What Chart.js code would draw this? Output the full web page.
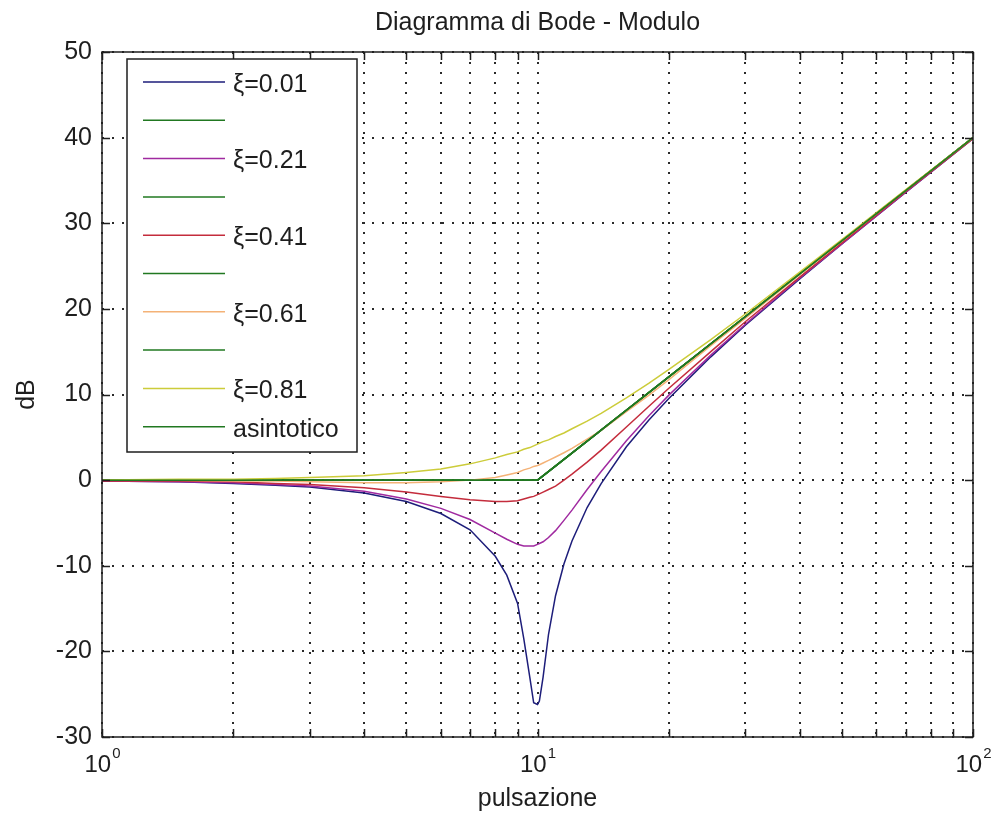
<!DOCTYPE html>
<html>
<head>
<meta charset="utf-8">
<title>Diagramma di Bode - Modulo</title>
<script src="https://cdn.jsdelivr.net/npm/chart.js@4.4.1/dist/chart.umd.min.js"></script>
<style>
  html, body { margin: 0; padding: 0; background: #fff; }
</style>
</head>
<body>
<canvas id="bode" width="994" height="821"></canvas>
<script>
// Pulsazione (rad/s) dei punti
const pulsazione = [1, 1.5, 2, 2.5, 3, 4, 5, 6, 7, 8, 8.5, 9, 9.3, 9.6, 9.8, 10, 10.1, 10.3, 10.6, 11, 11.5, 12, 13, 14, 16, 18, 20, 25, 30, 40, 50, 70, 100];

// Modulo in dB per ogni smorzamento
const xi001 = [-0.1, -0.2, -0.4, -0.6, -0.8, -1.5, -2.5, -3.9, -5.8, -8.9, -11.1, -14.4, -18.5, -23.0, -26.0, -26.2, -25.8, -23.0, -18.0, -13.5, -9.8, -7.1, -3.2, -0.4, 3.9, 7.0, 9.5, 14.4, 18.1, 23.5, 27.6, 33.6, 39.9];
const xi021 = [-0.1, -0.2, -0.3, -0.5, -0.7, -1.3, -2.2, -3.3, -4.6, -6.2, -6.9, -7.5, -7.7, -7.7, -7.7, -7.5, -7.4, -7.2, -6.7, -5.9, -4.7, -3.5, -1.1, 1.0, 4.6, 7.5, 9.9, 14.6, 18.2, 23.6, 27.6, 33.6, 39.9];
const xi041 = [-0.1, -0.1, -0.2, -0.4, -0.5, -0.9, -1.4, -1.9, -2.3, -2.5, -2.5, -2.4, -2.2, -2.0, -1.9, -1.7, -1.6, -1.4, -1.1, -0.7, 0.0, 0.7, 2.1, 3.5, 6.2, 8.6, 10.7, 15.0, 18.5, 23.7, 27.7, 33.7, 39.9];
const xi061 = [0.0, 0.0, -0.1, -0.1, -0.2, -0.3, -0.3, -0.2, 0.0, 0.3, 0.6, 0.9, 1.2, 1.4, 1.6, 1.7, 1.8, 2.0, 2.3, 2.7, 3.2, 3.7, 4.8, 5.8, 8.0, 9.9, 11.7, 15.7, 18.9, 24.0, 27.9, 33.8, 40.0];
const xi081 = [0.0, 0.1, 0.1, 0.2, 0.3, 0.5, 0.9, 1.3, 1.9, 2.6, 3.0, 3.3, 3.6, 3.8, 4.0, 4.2, 4.3, 4.5, 4.7, 5.1, 5.5, 6.0, 6.9, 7.8, 9.6, 11.3, 12.9, 16.4, 19.4, 24.3, 28.1, 33.9, 40.0];

// Diagramma asintotico
const asintPulsazione = [1, 10, 100];
const asintDb = [0, 0, 40];

const curveLabels = ['ξ=0.01', 'ξ=0.21', 'ξ=0.41', 'ξ=0.61', 'ξ=0.81'];
const curveValues = [xi001, xi021, xi041, xi061, xi081];
const curveColors = ['#1d1d7a', '#a02aa0', '#c42c3c', '#f4b277', '#cccc3a'];
const asintColor = '#217821';

const xTicks = [1, 2, 3, 4, 5, 6, 7, 8, 9, 10, 20, 30, 40, 50, 60, 70, 80, 90, 100];
const xTickExp = { 1: '0', 10: '1', 100: '2' };
const yTicks = [-30, -20, -10, 0, 10, 20, 30, 40, 50];

const FONT = '"Liberation Sans", Arial, sans-serif';
const INK = '#1e1e1e';

// curve e asintotico alternati, come nella legenda originale
const datasets = [];
curveValues.forEach((vals, i) => {
  datasets.push({
    label: curveLabels[i],
    data: pulsazione.map((w, k) => ({ x: w, y: vals[k] })),
    borderColor: curveColors[i],
  });
  datasets.push({
    label: i === curveValues.length - 1 ? 'asintotico' : '',
    data: asintPulsazione.map((w, k) => ({ x: w, y: asintDb[k] })),
    borderColor: asintColor,
  });
});
// l'ultimo tracciato sta sopra
datasets.forEach((d, i) => { d.order = datasets.length - i; });

const matlabLook = {
  id: 'matlabLook',
  beforeDraw(chart) {
    const { ctx, width, height } = chart;
    ctx.save();
    ctx.fillStyle = '#fff';
    ctx.fillRect(0, 0, width, height);
    ctx.restore();
  },
  afterDraw(chart) {
    const { ctx, chartArea: a, scales: { x, y } } = chart;
    ctx.save();

    // cornice e tacche interne
    ctx.strokeStyle = INK;
    ctx.lineWidth = 1.5;
    ctx.strokeRect(a.left, a.top, a.right - a.left, a.bottom - a.top);
    ctx.beginPath();
    xTicks.forEach(v => {
      const px = Math.round(x.getPixelForValue(v)) + 0.5;
      ctx.moveTo(px, a.bottom); ctx.lineTo(px, a.bottom - 8);
      ctx.moveTo(px, a.top); ctx.lineTo(px, a.top + 8);
    });
    yTicks.forEach(v => {
      const py = Math.round(y.getPixelForValue(v)) + 0.5;
      ctx.moveTo(a.left, py); ctx.lineTo(a.left + 8, py);
      ctx.moveTo(a.right, py); ctx.lineTo(a.right - 8, py);
    });
    ctx.stroke();

    // etichette 10^n
    ctx.fillStyle = INK;
    ctx.textBaseline = 'alphabetic';
    Object.keys(xTickExp).forEach(k => {
      const px = x.getPixelForValue(Number(k));
      ctx.font = `24px ${FONT}`;
      const wBase = ctx.measureText('10').width;
      ctx.font = `15px ${FONT}`;
      const wExp = ctx.measureText(xTickExp[k]).width;
      const left = px - (wBase + wExp) / 2;
      ctx.font = `24px ${FONT}`;
      ctx.textAlign = 'left';
      ctx.fillText('10', left, 772);
      ctx.font = `15px ${FONT}`;
      ctx.fillText(xTickExp[k], left + wBase + 1, 758);
    });

    // titolo e nomi assi
    const cx = (a.left + a.right) / 2;
    ctx.textAlign = 'center';
    ctx.font = `25px ${FONT}`;
    ctx.fillText('Diagramma di Bode - Modulo', cx, 30);
    ctx.fillText('pulsazione', cx, 806);
    ctx.save();
    ctx.translate(27, (a.top + a.bottom) / 2);
    ctx.rotate(-Math.PI / 2);
    ctx.textBaseline = 'middle';
    ctx.fillText('dB', 0, 0);
    ctx.restore();

    // legenda
    const box = { l: 127, t: 59, r: 357, b: 452 };
    ctx.fillStyle = '#fff';
    ctx.fillRect(box.l, box.t, box.r - box.l, box.b - box.t);
    ctx.strokeStyle = INK;
    ctx.lineWidth = 1.5;
    ctx.strokeRect(box.l, box.t, box.r - box.l, box.b - box.t);
    ctx.textAlign = 'left';
    ctx.textBaseline = 'middle';
    ctx.font = `25px ${FONT}`;
    chart.data.datasets.forEach((d, i) => {
      const ry = 82 + i * 38.3;
      ctx.strokeStyle = d.borderColor;
      ctx.lineWidth = 1.5;
      ctx.beginPath();
      ctx.moveTo(143, ry);
      ctx.lineTo(225, ry);
      ctx.stroke();
      if (d.label) {
        ctx.fillStyle = INK;
        ctx.fillText(d.label, 233, ry + 3);
      }
    });

    ctx.restore();
  }
};

const gridDots = { color: '#2a2a2a', lineWidth: 2, drawTicks: false };

new Chart(document.getElementById('bode'), {
  type: 'line',
  data: { datasets },
  options: {
    responsive: false,
    animation: false,
    layout: { padding: { left: 0, top: 52, right: 21, bottom: 0 } },
    elements: {
      point: { radius: 0 },
      line: { borderWidth: 1.5, tension: 0, fill: false },
    },
    plugins: {
      legend: { display: false },
      title: { display: false },
      tooltip: { enabled: false },
    },
    scales: {
      x: {
        type: 'logarithmic',
        min: 1,
        max: 100,
        afterBuildTicks: s => { s.ticks = xTicks.map(v => ({ value: v })); },
        afterFit: s => { s.height = 84; },
        ticks: { display: false },
        grid: { ...gridDots, borderDash: [2, 8] },
        border: { display: false, dash: [2, 8] },
      },
      y: {
        min: -30,
        max: 50,
        afterBuildTicks: s => { s.ticks = yTicks.map(v => ({ value: v })); },
        afterFit: s => { s.width = 102; },
        ticks: { padding: 10, color: INK, font: { family: FONT, size: 25 } },
        grid: { ...gridDots, borderDash: [2, 8] },
        border: { display: false, dash: [2, 8] },
      },
    },
  },
  plugins: [matlabLook],
});
</script>
</body>
</html>
